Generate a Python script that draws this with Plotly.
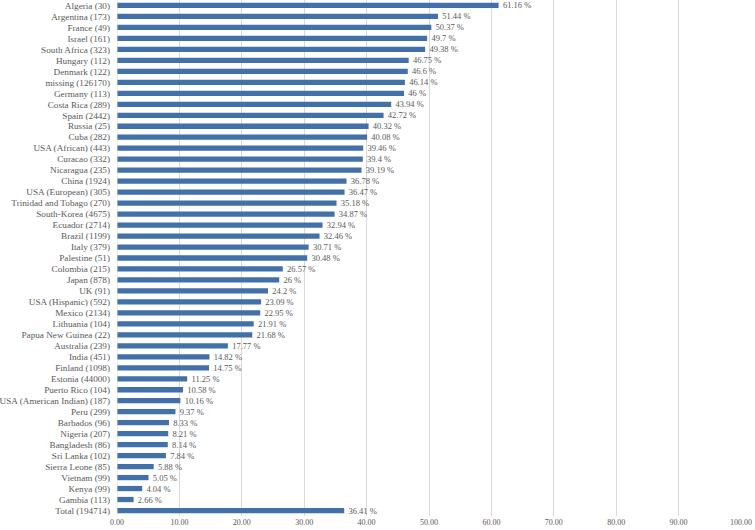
import plotly.graph_objects as go

# Categorías (de arriba hacia abajo) y porcentajes
countries = [
    "Algeria (30)", "Argentina (173)", "France (49)", "Israel (161)",
    "South Africa (323)", "Hungary (112)", "Denmark (122)", "missing (126170)",
    "Germany (113)", "Costa Rica (289)", "Spain (2442)", "Russia (25)",
    "Cuba (282)", "USA (African) (443)", "Curacao (332)", "Nicaragua (235)",
    "China (1924)", "USA (European) (305)", "Trinidad and Tobago (270)",
    "South-Korea (4675)", "Ecuador (2714)", "Brazil (1199)", "Italy (379)",
    "Palestine (51)", "Colombia (215)", "Japan (878)", "UK (91)",
    "USA (Hispanic) (592)", "Mexico (2134)", "Lithuania (104)",
    "Papua New Guinea (22)", "Australia (239)", "India (451)", "Finland (1098)",
    "Estonia (44000)", "Puerto Rico (104)", "USA (American Indian) (187)",
    "Peru (299)", "Barbados (96)", "Nigeria (207)", "Bangladesh (86)",
    "Sri Lanka (102)", "Sierra Leone (85)", "Vietnam (99)", "Kenya (99)",
    "Gambia (113)", "Total (194714)",
]
values = [
    61.16, 51.44, 50.37, 49.7, 49.38, 46.75, 46.6, 46.14, 46, 43.94, 42.72,
    40.32, 40.08, 39.46, 39.4, 39.19, 36.78, 36.47, 35.18, 34.87, 32.94,
    32.46, 30.71, 30.48, 26.57, 26, 24.2, 23.09, 22.95, 21.91, 21.68, 17.77,
    14.82, 14.75, 11.25, 10.58, 10.16, 9.37, 8.33, 8.21, 8.14, 7.84, 5.88,
    5.05, 4.04, 2.66, 36.41,
]
x_ticks = [0, 10, 20, 30, 40, 50, 60, 70, 80, 90, 100]

C_BAR = "#4271AA"
C_TEXT = "#595959"
C_GRID = "#D9D9D9"
FONT = "Liberation Serif, Times New Roman, serif"

fig = go.Figure(go.Bar(
    x=values, y=countries,
    orientation="h",
    marker=dict(color=C_BAR, line=dict(width=0)),
    text=[f"\u00a0\u00a0{v:g} %" for v in values],
    textposition="outside",
    constraintext="none",
    textfont=dict(size=8.5, color=C_TEXT, family=FONT),
    cliponaxis=False,
    hoverinfo="skip",
))

fig.update_layout(
    width=755, height=530,
    template="plotly_white",
    paper_bgcolor="#FFFFFF", plot_bgcolor="#FFFFFF",
    margin=dict(l=117, r=14, t=0, b=14),
    bargap=0.52,
    showlegend=False,
    font=dict(family=FONT, color=C_TEXT),
)
fig.update_xaxes(
    range=[0, 100], tickvals=x_ticks,
    ticktext=[f"{t:.2f}" for t in x_ticks],
    tickfont=dict(size=8, color=C_TEXT, family=FONT),
    gridcolor=C_GRID, gridwidth=1, zeroline=False,
    showline=False, ticks="", ticklen=0,
)
fig.update_yaxes(
    autorange="reversed",
    tickmode="array", tickvals=countries,
    tickfont=dict(size=9.2, color=C_TEXT, family=FONT),
    ticklabelstandoff=6,
    showgrid=False, showline=False, ticks="", ticklen=0,
    automargin=False,
)
fig.add_vline(x=0, line=dict(color=C_GRID, width=1))

fig.write_html(
    "out.html",
    config={"displayModeBar": False},
    post_script="document.body.style.margin='0';",
)
